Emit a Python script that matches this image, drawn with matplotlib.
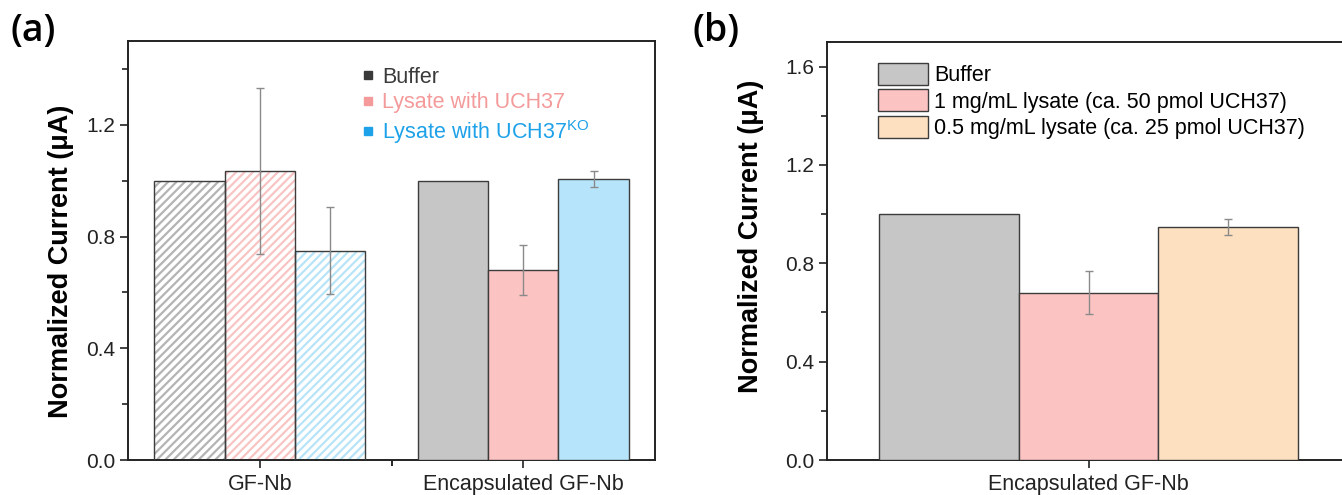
import numpy as np
import matplotlib
matplotlib.use("Agg")
import matplotlib.pyplot as plt
from matplotlib.lines import Line2D
from matplotlib.ticker import MultipleLocator, FormatStrFormatter

plt.rcParams['font.family'] = ['Liberation Sans', 'DejaVu Sans']
plt.rcParams['hatch.linewidth'] = 1.6

# panel (a) data
groups_a = ['GF-Nb', 'Encapsulated GF-Nb']
series_a = ['Buffer', 'Lysate with UCH37', 'Lysate with UCH37$^{\\mathregular{KO}}$']
values_a = [[1.00, 1.00],      # buffer
            [1.035, 0.68],     # lysate with UCH37
            [0.75, 1.005]]     # lysate with UCH37 KO
errors_a = [[0.0, 0.0],
            [0.298, 0.088],
            [0.155, 0.028]]

# panel (b) data
groups_b = ['Encapsulated GF-Nb']
series_b = ['Buffer', '1 mg/mL lysate (ca. 50 pmol UCH37)', '0.5 mg/mL lysate (ca. 25 pmol UCH37)']
values_b = [1.00, 0.68, 0.948]
errors_b = [0.0, 0.088, 0.033]

hatch_cols = ['#b4b4b4', '#f9c4c4', '#b8e4f8']
fill_cols_a = ['#c6c6c6', '#fcc3c3', '#b6e5fb']
text_cols_a = ['#3a3a3a', '#f49a9a', '#1da1e8']
fill_cols_b = ['#c6c6c6', '#fcc3c3', '#fde0bf']
edge = '#3c3c3c'
err_col = '#8a8a8a'

fig = plt.figure(figsize=(13.42, 4.95), dpi=100)
W, H = 1342, 495
ax1 = fig.add_axes([128 / W, 1 - 460 / H, 527 / W, 419 / H])
ax2 = fig.add_axes([827 / W, 1 - 460 / H, 523 / W, 418 / H])

bw = 0.8 / 3
x_a = np.arange(1, len(groups_a) + 1)

for i in range(3):
    xs = x_a + (i - 1) * bw
    # hatched bars for GF-Nb, solid for encapsulated
    ax1.bar(xs[0], values_a[i][0], bw, color='white', edgecolor=hatch_cols[i],
            hatch='////', linewidth=0, zorder=2)
    ax1.bar(xs[0], values_a[i][0], bw, color='none', edgecolor=edge, linewidth=1.0, zorder=3)
    ax1.bar(xs[1], values_a[i][1], bw, color=fill_cols_a[i], edgecolor=edge, linewidth=1.0, zorder=3)
    for j in range(2):
        if errors_a[i][j] > 0:
            ax1.errorbar(xs[j], values_a[i][j], yerr=errors_a[i][j], fmt='none',
                         ecolor=err_col, elinewidth=1.0, capsize=3, capthick=1.0, zorder=4)

x_b = np.arange(1, len(groups_b) + 1)
for i in range(3):
    xs = x_b + (i - 1) * bw
    ax2.bar(xs, values_b[i], bw, color=fill_cols_b[i], edgecolor=edge, linewidth=1.0,
            label=series_b[i], zorder=3)
    if errors_b[i] > 0:
        ax2.errorbar(xs, values_b[i], yerr=errors_b[i], fmt='none', ecolor=err_col,
                     elinewidth=1.0, capsize=3, capthick=1.0, zorder=4)

# axes styling
for ax, top, groups, xc in [(ax1, 1.5, groups_a, x_a), (ax2, 1.7, groups_b, x_b)]:
    ax.set_xlim(0.5, len(groups) + 0.5)
    ax.set_ylim(0, top)
    ax.set_xticks(xc)
    ax.set_xticklabels(groups, fontsize=15.5)
    ax.yaxis.set_major_locator(MultipleLocator(0.4))
    ax.yaxis.set_minor_locator(MultipleLocator(0.2))
    ax.yaxis.set_major_formatter(FormatStrFormatter('%.1f'))
    ax.tick_params(axis='y', labelsize=15, direction='out', length=6, width=1.2, pad=3, colors='#222222')
    ax.tick_params(axis='y', which='minor', direction='out', length=4, width=1.2, colors='#222222')
    ax.tick_params(axis='x', direction='out', length=6, width=1.2, pad=4, colors='#222222')
    for s in ax.spines.values():
        s.set_linewidth(1.4)
        s.set_color('#222222')
    ax.set_ylabel('Normalized Current (\u03bcA)', fontsize=19.5, fontweight='bold')

ax1.set_xticks([1.5], minor=True)
ax1.tick_params(axis='x', which='minor', direction='out', length=4, width=1.2)
ax1.yaxis.set_label_coords((74 - 128) / 527, 0.474)
ax2.yaxis.set_label_coords((764 - 827) / 523, 0.535)

# legend (a): coloured text with square markers
handles_a = [Line2D([], [], marker='s', linestyle='none', markersize=6,
                    color=c) for c in text_cols_a]
leg1 = ax1.legend(handles_a, series_a, loc='upper left', frameon=False,
                  bbox_to_anchor=((362 - 128) / 527, (460 - 67) / 419),
                  fontsize=15.5, handlelength=0.6, handletextpad=0.35,
                  labelspacing=0.2, borderpad=0, borderaxespad=0)
for t, c in zip(leg1.get_texts(), text_cols_a):
    t.set_color(c)

# legend (b): boxed patches
leg2 = ax2.legend(loc='upper left', frameon=False,
                  bbox_to_anchor=((878 - 827) / 523, (460 - 63) / 418),
                  fontsize=15.5, handlelength=2.3, handleheight=1.2,
                  handletextpad=0.3, labelspacing=0.14, borderpad=0, borderaxespad=0)

fig.text(10 / W, 1 - 12 / H, '(a)', fontsize=27, fontweight='semibold',
         family=['Open Sans', 'DejaVu Sans'], va='top', ha='left')
fig.text(693 / W, 1 - 12 / H, '(b)', fontsize=27, fontweight='semibold',
         family=['Open Sans', 'DejaVu Sans'], va='top', ha='left')

fig.savefig('out.png', dpi=100)
